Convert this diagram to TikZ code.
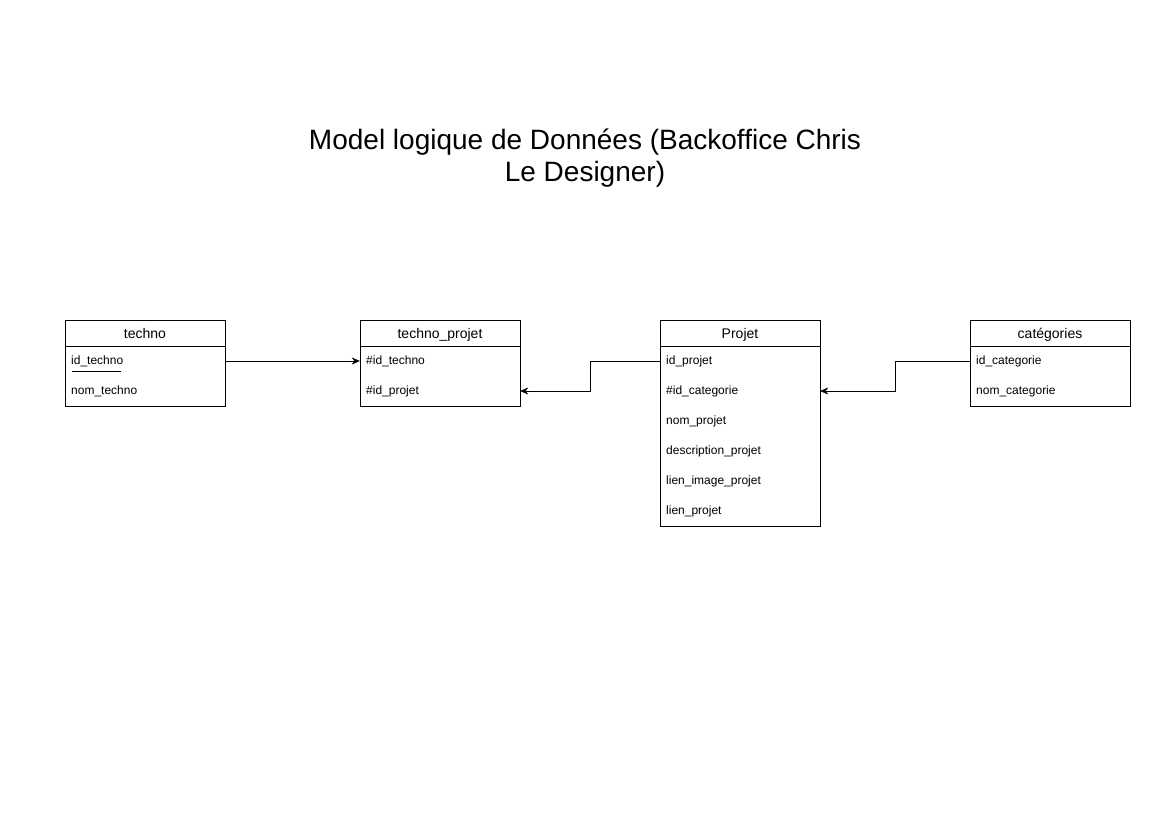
\documentclass[tikz,border=0pt]{standalone}
\usepackage{fontspec}
\setmainfont{Liberation Sans}
\usetikzlibrary{arrows.meta,positioning}

\begin{document}
\begin{tikzpicture}[x=1pt, y=-1pt, >={Stealth[length=8pt,width=7pt]},
    entete/.style={draw, minimum width=160pt, minimum height=26pt, inner sep=0pt, anchor=north,
        text height=10pt, text depth=0pt, font=\fontsize{14}{16}\selectfont},
    corps/.style={draw, minimum width=160pt, inner sep=0pt, anchor=north},
    champ/.style={anchor=west, inner sep=0pt, text height=9pt, text depth=2pt,
        font=\fontsize{12}{14}\selectfont}]
    \useasboundingbox (0,0) rectangle (1169,827);

    \node[align=center, font=\fontsize{28}{32}\selectfont] (titre) at (585,158)
        {Model logique de Données (Backoffice Chris\\Le Designer)};

    % techno
    \node[entete] (techno) at (145,320) {techno};
    \node[corps, minimum height=60pt] (techno-corps) at (145,346) {};
    \node[champ] (techno-id) at (71,361) {id\_techno};
    \node[champ] (techno-nom) at (71,391) {nom\_techno};
    \draw ([xshift=1pt,yshift=-4pt]techno-id.south west) -- ([xshift=-2pt,yshift=-4pt]techno-id.south east);

    % techno_projet
    \node[entete] (tp) at (440,320) {techno\_projet};
    \node[corps, minimum height=60pt] (tp-corps) at (440,346) {};
    \node[champ] (tp-idtechno) at (366,361) {\#id\_techno};
    \node[champ] (tp-idprojet) at (366,391) {\#id\_projet};

    % Projet
    \node[entete] (projet) at (740,320) {Projet};
    \node[corps, minimum height=180pt] (projet-corps) at (740,346) {};
    \foreach \nom/\texte [count=\i from 0] in {id/id\_projet, idcat/\#id\_categorie,
        nom/nom\_projet, desc/description\_projet, image/lien\_image\_projet, lien/lien\_projet}
        \node[champ] (projet-\nom) at (666,361+30*\i) {\texte};

    % catégories
    \node[entete] (cat) at (1050,320) {catégories};
    \node[corps, minimum height=60pt] (cat-corps) at (1050,346) {};
    \node[champ] (cat-id) at (976,361) {id\_categorie};
    \node[champ] (cat-nom) at (976,391) {nom\_categorie};

    % liens
    \draw[->] (techno-id -| techno-corps.east) -- (tp-idtechno -| tp-corps.west);
    \draw[->] (projet-id -| projet-corps.west) -- ++(-70,0) |- (tp-idprojet -| tp-corps.east);
    \draw[->] (cat-id -| cat-corps.west) -- ++(-75,0) |- (projet-idcat -| projet-corps.east);
\end{tikzpicture}
\end{document}
